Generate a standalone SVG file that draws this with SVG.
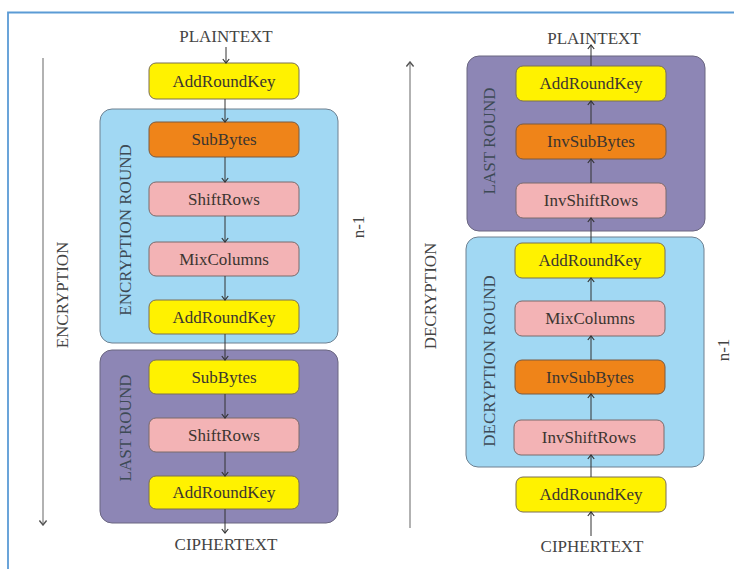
<svg xmlns="http://www.w3.org/2000/svg" width="734" height="569" viewBox="0 0 734 569">
<defs>
<marker id="ah" viewBox="0 0 10 10" refX="9" refY="5" markerWidth="8" markerHeight="8" orient="auto" markerUnits="userSpaceOnUse">
<path d="M4,1 L9,5 L4,9" fill="none" stroke="#333" stroke-width="1.5"/>
</marker>
<marker id="ahg" viewBox="0 0 10 10" refX="9" refY="5" markerWidth="9" markerHeight="9" orient="auto" markerUnits="userSpaceOnUse">
<path d="M4,1 L9,5 L4,9" fill="none" stroke="#555" stroke-width="1.6"/>
</marker>
</defs>
<style>
text{font-family:"Liberation Serif","Times New Roman",serif;font-size:17px;fill:#444;text-anchor:middle}
.box text{fill:#3b3530}
.y{fill:#fff200;stroke:#7a6e55;stroke-width:1}
.o{fill:#ef8419;stroke:#7a5a40;stroke-width:1}
.p{fill:#f3b3b5;stroke:#7a6a6a;stroke-width:1}
.blue{fill:#a1d8f3;stroke:#6e8090;stroke-width:1}
.purple{fill:#8d86b5;stroke:#6a6680;stroke-width:1}
.c line{stroke:#333;stroke-width:1;marker-end:url(#ah)}
.side line{stroke:#999;stroke-width:1.5;marker-end:url(#ahg)}
.lbl{fill:#3d4a55}
</style>
<rect width="734" height="569" fill="#fff"/>
<path d="M8,569 V12.5 H734" fill="none" stroke="#5b9bd5" stroke-width="1.8"/>

<!-- Encryption side -->
<g id="enc-round-bg"><rect class="blue" x="100" y="109" width="238" height="234" rx="12"/></g>
<g id="enc-last-bg"><rect class="purple" x="100" y="350" width="238" height="173" rx="12"/></g>

<g id="enc-plaintext"><text x="226" y="42">PLAINTEXT</text></g>
<g id="e1" class="box"><rect class="y" x="149" y="63" width="150" height="36" rx="7"/><text x="224" y="87">AddRoundKey</text></g>
<g id="e2" class="box"><rect class="o" x="149" y="122" width="150" height="35" rx="7"/><text x="224" y="145">SubBytes</text></g>
<g id="e3" class="box"><rect class="p" x="149" y="182" width="150" height="34" rx="7"/><text x="224" y="205">ShiftRows</text></g>
<g id="e4" class="box"><rect class="p" x="149" y="242" width="150" height="34" rx="7"/><text x="224" y="265">MixColumns</text></g>
<g id="e5" class="box"><rect class="y" x="149" y="300" width="150" height="34" rx="7"/><text x="224" y="323">AddRoundKey</text></g>
<g id="e6" class="box"><rect class="y" x="149" y="360" width="150" height="34" rx="7"/><text x="224" y="383">SubBytes</text></g>
<g id="e7" class="box"><rect class="p" x="149" y="418" width="150" height="34" rx="7"/><text x="224" y="441">ShiftRows</text></g>
<g id="e8" class="box"><rect class="y" x="149" y="476" width="150" height="33" rx="7"/><text x="224" y="498">AddRoundKey</text></g>
<g id="enc-ciphertext"><text x="226" y="550">CIPHERTEXT</text></g>
<g id="enc-round-label"><text class="lbl" transform="translate(131,230) rotate(-90)">ENCRYPTION ROUND</text></g>
<g id="enc-last-label"><text class="lbl" transform="translate(131,428) rotate(-90)">LAST ROUND</text></g>
<g id="enc-label"><text transform="translate(68,295) rotate(-90)">ENCRYPTION</text></g>
<g id="enc-n1"><text transform="translate(364,227) rotate(-90)">n-1</text></g>

<!-- Decryption side -->
<g id="dec-last-bg"><rect class="purple" x="467" y="56" width="238" height="175" rx="12"/></g>
<g id="dec-round-bg"><rect class="blue" x="466" y="237" width="238" height="230" rx="12"/></g>

<g id="dec-plaintext"><text x="594" y="44">PLAINTEXT</text></g>
<g id="d1" class="box"><rect class="y" x="516" y="66" width="150" height="35" rx="7"/><text x="591" y="89">AddRoundKey</text></g>
<g id="d2" class="box"><rect class="o" x="516" y="124" width="150" height="35" rx="7"/><text x="591" y="147">InvSubBytes</text></g>
<g id="d3" class="box"><rect class="p" x="516" y="183" width="150" height="35" rx="7"/><text x="591" y="206">InvShiftRows</text></g>
<g id="d4" class="box"><rect class="y" x="515" y="243" width="150" height="35" rx="7"/><text x="590" y="266">AddRoundKey</text></g>
<g id="d5" class="box"><rect class="p" x="515" y="301" width="150" height="35" rx="7"/><text x="590" y="324">MixColumns</text></g>
<g id="d6" class="box"><rect class="o" x="515" y="360" width="150" height="34" rx="7"/><text x="590" y="383">InvSubBytes</text></g>
<g id="d7" class="box"><rect class="p" x="514" y="420" width="150" height="35" rx="7"/><text x="589" y="443">InvShiftRows</text></g>
<g id="d8" class="box"><rect class="y" x="516" y="477" width="150" height="35" rx="7"/><text x="591" y="500">AddRoundKey</text></g>
<g id="dec-ciphertext"><text x="592" y="552">CIPHERTEXT</text></g>
<g id="dec-last-label"><text class="lbl" transform="translate(495,141) rotate(-90)">LAST ROUND</text></g>
<g id="dec-round-label"><text class="lbl" transform="translate(495,361) rotate(-90)">DECRYPTION ROUND</text></g>
<g id="dec-label"><text transform="translate(436,296) rotate(-90)">DECRYPTION</text></g>
<g id="dec-n1"><text transform="translate(729,350) rotate(-90)">n-1</text></g>

<g id="connectors">
<g class="c">
<line x1="226" y1="47" x2="226" y2="63"/>
<line x1="225" y1="99" x2="225" y2="122"/>
<line x1="225" y1="157" x2="225" y2="182"/>
<line x1="225" y1="216" x2="225" y2="242"/>
<line x1="225" y1="276" x2="225" y2="300"/>
<line x1="225" y1="334" x2="225" y2="360"/>
<line x1="225" y1="394" x2="225" y2="418"/>
<line x1="225" y1="452" x2="225" y2="476"/>
<line x1="225" y1="509" x2="225" y2="533"/>
<line x1="591" y1="66" x2="591" y2="45"/>
<line x1="591" y1="124" x2="591" y2="101"/>
<line x1="591" y1="183" x2="591" y2="159"/>
<line x1="591" y1="243" x2="591" y2="218"/>
<line x1="591" y1="301" x2="591" y2="278"/>
<line x1="591" y1="360" x2="591" y2="336"/>
<line x1="591" y1="420" x2="591" y2="394"/>
<line x1="591" y1="477" x2="591" y2="455"/>
<line x1="591" y1="536" x2="591" y2="512"/>
</g>
<g class="side">
<line x1="43" y1="58" x2="43" y2="525"/>
<line x1="410" y1="528" x2="410" y2="62"/>
</g>
</g>
</svg>
